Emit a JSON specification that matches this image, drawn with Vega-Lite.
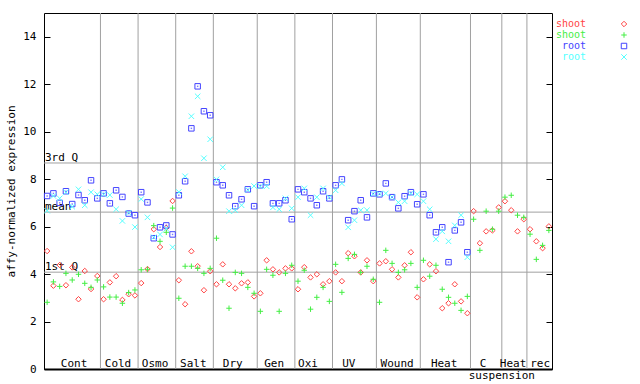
{
  "$schema": "https://vega.github.io/schema/vega-lite/v6.json",
  "width": 508,
  "height": 356,
  "autosize": {"type": "none"},
  "padding": {"left": 44, "top": 13, "right": 88, "bottom": 15},
  "background": "white",
  "config": {
    "view": {"stroke": "#000", "strokeWidth": 1},
    "font": "DejaVu Sans Mono",
    "axis": {"labelFont": "DejaVu Sans Mono", "titleFont": "DejaVu Sans Mono", "labelFontSize": 11, "labelColor": "#000", "tickColor": "#000", "domain": false, "grid": false},
    "text": {"font": "DejaVu Sans Mono", "fontSize": 11}
  },
  "datasets": {
    "expr": [
      {"k":1,"a":4.97,"b":2.81,"c":7.29,"d":6.67},
      {"k":2,"a":3.51,"b":3.67,"c":7.40,"d":7.29},
      {"k":3,"a":4.38,"b":3.48,"c":7.00,"d":7.19},
      {"k":4,"a":3.53,"b":4.03,"c":7.49,"d":7.45},
      {"k":5,"a":4.28,"b":3.75,"c":6.95,"d":6.84},
      {"k":6,"a":2.94,"b":3.99,"c":7.33,"d":7.57},
      {"k":7,"a":4.13,"b":3.61,"c":7.11,"d":6.90},
      {"k":8,"a":3.37,"b":3.44,"c":7.95,"d":7.45},
      {"k":9,"a":3.92,"b":3.75,"c":7.19,"d":7.36},
      {"k":10,"a":2.94,"b":3.46,"c":7.40,"d":7.36},
      {"k":11,"a":3.65,"b":3.03,"c":6.98,"d":7.33},
      {"k":12,"a":3.91,"b":3.03,"c":7.53,"d":6.73},
      {"k":13,"a":2.91,"b":2.77,"c":7.25,"d":6.24},
      {"k":14,"a":3.15,"b":3.22,"c":6.55,"d":6.58},
      {"k":15,"a":3.10,"b":3.33,"c":6.48,"d":5.98},
      {"k":16,"a":3.62,"b":4.18,"c":7.45,"d":7.16},
      {"k":17,"a":4.21,"b":4.20,"c":7.02,"d":6.39},
      {"k":18,"a":5.89,"b":6.04,"c":5.51,"d":5.55},
      {"k":19,"a":5.14,"b":5.38,"c":5.97,"d":5.67},
      {"k":20,"a":5.95,"b":5.76,"c":6.05,"d":5.91},
      {"k":21,"a":7.08,"b":6.78,"c":5.67,"d":5.13},
      {"k":22,"a":3.74,"b":2.98,"c":7.32,"d":7.46},
      {"k":23,"a":2.73,"b":4.33,"c":7.91,"d":8.12},
      {"k":24,"a":4.96,"b":4.33,"c":10.14,"d":10.65},
      {"k":25,"a":4.33,"b":4.24,"c":11.91,"d":11.49},
      {"k":26,"a":3.32,"b":4.03,"c":10.86,"d":8.88},
      {"k":27,"a":4.12,"b":4.24,"c":10.69,"d":9.68},
      {"k":28,"a":3.57,"b":5.51,"c":7.87,"d":7.99},
      {"k":29,"a":4.41,"b":3.74,"c":7.74,"d":8.50},
      {"k":30,"a":3.57,"b":2.56,"c":7.32,"d":6.65},
      {"k":31,"a":3.40,"b":4.07,"c":6.86,"d":6.69},
      {"k":32,"a":3.61,"b":4.03,"c":7.15,"d":6.90},
      {"k":33,"a":3.65,"b":3.44,"c":7.57,"d":7.55},
      {"k":34,"a":3.06,"b":3.19,"c":6.86,"d":7.71},
      {"k":35,"a":3.19,"b":2.43,"c":7.74,"d":7.70},
      {"k":36,"a":4.58,"b":4.20,"c":7.87,"d":7.70},
      {"k":37,"a":4.20,"b":3.95,"c":6.98,"d":6.81},
      {"k":38,"a":4.07,"b":2.43,"c":6.98,"d":6.73},
      {"k":39,"a":4.24,"b":4.03,"c":7.11,"d":7.19},
      {"k":40,"a":4.24,"b":4.37,"c":6.31,"d":6.77},
      {"k":41,"a":3.36,"b":3.70,"c":7.57,"d":7.24},
      {"k":42,"a":4.29,"b":4.16,"c":7.45,"d":7.61},
      {"k":43,"a":3.86,"b":2.52,"c":7.19,"d":6.48},
      {"k":44,"a":3.99,"b":3.02,"c":6.90,"d":7.24},
      {"k":45,"a":3.57,"b":3.44,"c":7.49,"d":7.61},
      {"k":46,"a":3.70,"b":2.85,"c":7.19,"d":7.24},
      {"k":47,"a":4.07,"b":4.41,"c":7.74,"d":7.53},
      {"k":48,"a":3.70,"b":3.23,"c":7.99,"d":7.82},
      {"k":49,"a":4.88,"b":4.66,"c":6.27,"d":5.97},
      {"k":50,"a":4.75,"b":4.83,"c":6.65,"d":6.27},
      {"k":51,"a":4.07,"b":4.07,"c":7.11,"d":6.69},
      {"k":52,"a":4.58,"b":4.33,"c":6.39,"d":6.69},
      {"k":53,"a":3.70,"b":3.78,"c":7.40,"d":7.38},
      {"k":54,"a":4.45,"b":2.81,"c":7.36,"d":7.38},
      {"k":55,"a":4.54,"b":5.00,"c":7.82,"d":7.40},
      {"k":56,"a":4.20,"b":4.45,"c":7.24,"d":7.24},
      {"k":57,"a":3.86,"b":4.07,"c":6.77,"d":7.02},
      {"k":58,"a":4.37,"b":4.18,"c":7.28,"d":7.07},
      {"k":59,"a":4.92,"b":4.45,"c":7.45,"d":7.40},
      {"k":60,"a":3.02,"b":3.44,"c":6.94,"d":7.36},
      {"k":61,"a":3.78,"b":4.58,"c":7.36,"d":7.07},
      {"k":62,"a":4.41,"b":3.91,"c":6.48,"d":6.73},
      {"k":63,"a":4.12,"b":4.37,"c":5.76,"d":5.47},
      {"k":64,"a":2.56,"b":3.36,"c":5.97,"d":5.80},
      {"k":65,"a":2.77,"b":3.02,"c":4.50,"d":5.38},
      {"k":66,"a":3.57,"b":2.77,"c":5.84,"d":6.05},
      {"k":67,"a":2.85,"b":2.47,"c":6.18,"d":6.48},
      {"k":68,"a":2.35,"b":3.06,"c":4.92,"d":4.71},
      {"k":69,"a":6.65,"b":6.31},
      {"k":70,"a":5.30,"b":5.00},
      {"k":71,"a":5.80,"b":6.65},
      {"k":72,"a":5.84,"b":5.89},
      {"k":73,"a":6.81,"b":6.65},
      {"k":74,"a":7.07,"b":7.24},
      {"k":75,"a":6.69,"b":7.32},
      {"k":76,"a":5.80,"b":6.48},
      {"k":77,"a":6.31,"b":6.39},
      {"k":78,"a":5.89,"b":5.68},
      {"k":79,"a":5.38,"b":4.62},
      {"k":80,"a":5.09,"b":5.21},
      {"k":81,"a":6.01,"b":5.84}
    ],
    "bounds": [{"b":9.5},{"b":15.5},{"b":21.5},{"b":27.5},{"b":34.5},{"b":40.5},{"b":46.5},{"b":53.5},{"b":60.5},{"b":68.5},{"b":73.5},{"b":77.5}],
    "refs": [{"v":8.68,"label":"3rd Q"},{"v":6.61,"label":"mean"},{"v":4.08,"label":"1st Q"}],
    "groups": [
      {"x":5.3,"label":"Cont"},{"x":12.3,"label":"Cold"},{"x":18.2,"label":"Osmo"},{"x":24.3,"label":"Salt"},
      {"x":30.6,"label":"Dry"},{"x":37.2,"label":"Gen"},{"x":42.6,"label":"Oxi"},{"x":49.1,"label":"UV"},
      {"x":56.8,"label":"Wound"},{"x":64.3,"label":"Heat"},{"x":70.5,"label":"C"},{"x":75.3,"label":"Heat"},{"x":79.6,"label":"rec"}
    ]
  },
  "layer": [
    {
      "layer": [
        {
          "data": {"name": "bounds"},
          "mark": {"type": "rule", "color": "#a0a0a0", "strokeWidth": 1},
          "encoding": {"x": {"field": "b", "type": "quantitative", "scale": {"domain": [0.5, 81.5], "nice": false, "zero": false},
                             "axis": {"domain": true, "domainColor": "#000", "domainWidth": 2, "ticks": false, "labels": false, "title": null}}}
        },
        {
          "data": {"name": "refs"},
          "mark": {"type": "rule", "color": "#a0a0a0", "strokeWidth": 1},
          "encoding": {"y": {"field": "v", "type": "quantitative", "scale": {"domain": [0, 15], "nice": false}, "title": "affy-normalized expression"}}
        },
        {
          "data": {"name": "refs"},
          "mark": {"type": "text", "align": "left", "baseline": "alphabetic", "dx": 1, "dy": -2, "color": "#000"},
          "encoding": {
            "x": {"datum": 0.5, "type": "quantitative"},
            "y": {"field": "v", "type": "quantitative", "title": "affy-normalized expression"},
            "text": {"field": "label"}
          }
        },
        {
          "data": {"name": "groups"},
          "mark": {"type": "text", "align": "center", "baseline": "alphabetic", "dy": -2, "color": "#000"},
          "encoding": {
            "x": {"field": "x", "type": "quantitative"},
            "y": {"datum": 0, "type": "quantitative", "title": "affy-normalized expression"},
            "text": {"field": "label"}
          }
        },
        {
          "data": {"values": [{"x": 73.5, "label": "suspension"}]},
          "mark": {"type": "text", "align": "center", "baseline": "alphabetic", "dy": 10, "color": "#000"},
          "encoding": {
            "x": {"field": "x", "type": "quantitative"},
            "y": {"datum": 0, "type": "quantitative", "title": "affy-normalized expression"},
            "text": {"field": "label"}
          }
        },
        {
          "data": {"name": "expr"},
          "transform": [{"fold": ["a", "b", "c", "d"], "as": ["s", "value"]}, {"filter": "isValid(datum.value)"}],
          "mark": {"type": "point", "filled": false, "strokeWidth": 1, "size": 30, "opacity": 1},
          "encoding": {
            "x": {"field": "k", "type": "quantitative", "scale": {"domain": [0.5, 81.5], "nice": false, "zero": false}},
            "y": {"field": "value", "type": "quantitative", "title": "affy-normalized expression", "scale": {"domain": [0, 15], "nice": false},
                  "axis": {"values": [0, 2, 4, 6, 8, 10, 12, 14], "tickSize": -6, "labelPadding": 14, "titleFontSize": 11, "titleFontWeight": "normal", "titlePadding": 6, "titleColor": "#000"}},
            "color": {"field": "s", "type": "nominal",
                      "scale": {"domain": ["a", "b", "c", "d"], "range": ["#ff4444", "#44ee44", "#4444ff", "#55ffff"]},
                      "legend": {"orient": "none", "legendX": 575, "legendY": 6, "title": null, "padding": 0, "rowPadding": 1,
                                 "labelExpr": "datum.value == 'a' || datum.value == 'b' ? 'shoot' : 'root'",
                                 "labelColor": {"expr": "datum.value == 'a' ? '#ff4444' : datum.value == 'b' ? '#44ee44' : datum.value == 'c' ? '#4444ff' : '#55ffff'"},
                                 "labelAlign": "right", "labelOffset": -43, "labelFont": "DejaVu Sans Mono", "labelFontSize": 10,
                                 "symbolSize": 30, "symbolStrokeWidth": 1}},
            "shape": {"field": "s", "type": "nominal",
                      "scale": {"domain": ["a", "b", "c", "d"], "range": ["diamond", "M-1,0L1,0M0,-1L0,1", "square", "M-1,-1L1,1M-1,1L1,-1"]},
                      "legend": {"orient": "none", "legendX": 575, "legendY": 6, "title": null, "padding": 0, "rowPadding": 1,
                                 "labelExpr": "datum.value == 'a' || datum.value == 'b' ? 'shoot' : 'root'",
                                 "labelColor": {"expr": "datum.value == 'a' ? '#ff4444' : datum.value == 'b' ? '#44ee44' : datum.value == 'c' ? '#4444ff' : '#55ffff'"},
                                 "labelAlign": "right", "labelOffset": -43, "labelFont": "DejaVu Sans Mono", "labelFontSize": 10,
                                 "symbolSize": 30, "symbolStrokeWidth": 1}}
          }
        },
        {
          "data": {"name": "expr"},
          "transform": [{"fold": ["c"], "as": ["s", "value"]}, {"filter": "isValid(datum.value)"}],
          "mark": {"type": "square", "filled": true, "size": 2, "color": "#4444ff"},
          "encoding": {
            "x": {"field": "k", "type": "quantitative"},
            "y": {"field": "value", "type": "quantitative", "title": "affy-normalized expression"}
          }
        }
      ]
    },
    {
      "data": {"values": [{}]},
      "mark": {"type": "rule", "opacity": 0},
      "encoding": {
        "y": {"datum": 0, "type": "quantitative", "scale": {"domain": [0, 15], "nice": false},
              "axis": {"orient": "right", "values": [0, 2, 4, 6, 8, 10, 12, 14], "labels": false, "tickSize": -6, "title": null, "domain": false}}
      }
    }
  ],
  "resolve": {"scale": {"y": "independent"}}
}
